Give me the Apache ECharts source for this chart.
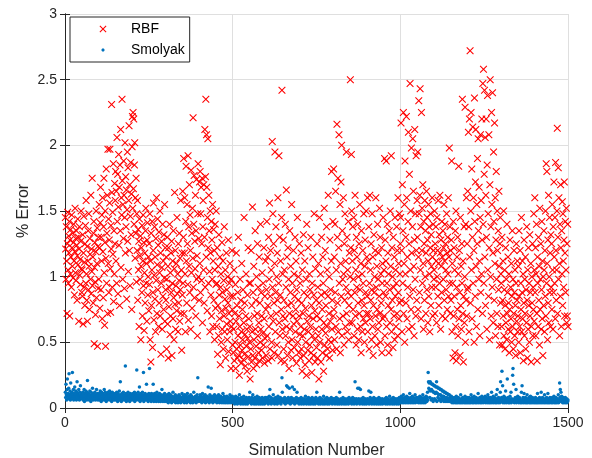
<!DOCTYPE html>
<html>
<head>
<meta charset="utf-8">
<script src="https://cdn.jsdelivr.net/npm/echarts@6/dist/echarts.min.js"></script>
<style>
  html, body { margin: 0; padding: 0; background: #fff; }
  #chart { width: 592px; height: 458px; }
</style>
</head>
<body>
<div id="chart"></div>
<script>
// % error per simulation, one row = 50 simulations
const rbfError = [
  1.45,1.21,0.98,1.38,1.12,0.72,1.25,1.49,1.05,0.95,1.31,1.18,1.42,0.7,1.28,1.02,1.36,1.15,0.92,1.47,1.22,1.08,1.33,0.99,1.26,1.4,1.12,0.86,1.19,1.52,1.03,1.29,0.97,1.35,1.24,0.82,1.16,1.44,1.09,1.3,0.66,1.21,1.38,1.01,1.13,0.94,1.27,1.5,1.06,0.88,
  1.05,0.85,1.32,0.64,1.18,1.46,0.92,1.11,0.78,1.25,1.39,0.95,1.58,1.02,0.82,1.23,0.66,1.12,1.35,0.9,1.48,1.08,0.75,1.29,1.17,0.98,1.62,0.87,1.21,1.04,1.75,0.93,1.15,0.8,1.33,1.42,0.49,1.07,1.26,0.96,0.71,1.19,1.5,0.84,1.1,1.37,0.47,1.23,0.91,1.3,
  0.98,1.55,1.22,0.76,1.41,1.68,0.9,1.3,1.12,1.47,0.68,1.6,1.19,0.84,1.38,1.75,1.03,0.63,1.26,1.5,0.47,1.14,1.82,0.95,1.33,1.62,0.72,1.97,1.1,1.44,0.88,1.28,1.56,1.97,1.06,0.73,1.39,1.21,2.31,1.64,0.92,1.49,1.17,1.86,0.81,1.35,1.02,1.71,1.25,1.58,
  1.8,1.12,1.65,0.95,2.06,1.42,1.78,0.87,1.53,1.93,1.24,1.68,0.78,1.85,1.35,2.12,1.07,1.6,1.47,2.35,1.73,0.98,1.55,1.29,1.88,1.62,0.91,1.45,2.02,1.18,1.76,1.38,1.66,0.83,1.51,1.95,1.27,1.83,1.04,1.58,2.15,1.2,1.7,0.93,1.46,1.87,1.32,1.63,0.75,1.99,
  2.22,1.52,2.25,1.67,2.2,1.4,1.85,2.02,1.14,1.6,1.33,1.75,0.96,1.48,1.2,1.58,0.82,1.36,1.05,1.27,0.62,1.44,1.16,0.98,1.31,0.52,1.08,1.22,0.88,1.39,0.7,1.12,1.47,0.93,1.26,0.59,1.03,1.18,0.8,1.35,1.52,0.95,1.1,0.66,1.28,1.41,0.86,1.0,1.15,0.74,
  1.25,0.94,1.48,0.52,1.12,0.35,1.33,0.78,1.05,1.42,0.46,0.88,1.2,1.56,0.67,1.01,1.38,0.83,1.15,0.58,1.29,0.97,1.6,0.72,1.09,1.44,0.9,1.24,0.62,1.34,0.8,1.03,1.5,0.7,1.18,0.41,0.95,1.27,1.07,0.6,1.4,0.85,1.12,0.75,1.32,0.99,1.55,0.66,1.22,0.9,
  0.82,1.15,0.45,0.98,1.3,0.64,1.08,0.38,1.22,0.77,0.92,1.4,0.56,1.03,0.7,1.18,0.88,1.27,0.4,0.95,1.12,0.68,1.35,0.84,0.52,1.06,1.64,0.79,1.2,0.6,0.93,1.1,0.74,1.45,0.87,1.02,0.58,1.25,0.8,0.97,1.33,0.66,1.14,0.9,1.58,0.72,1.05,0.44,1.18,0.86,
  1.65,0.95,1.3,1.9,0.72,1.18,1.6,1.02,0.58,1.42,1.84,1.12,0.8,1.55,1.25,0.94,1.92,0.67,1.38,1.08,1.7,0.88,1.47,1.2,0.6,1.81,1.03,1.33,0.76,1.52,1.14,2.21,0.92,1.4,1.77,0.84,1.27,1.06,1.62,0.7,1.35,1.74,0.98,1.16,0.55,1.48,1.86,1.0,1.29,0.82,
  1.72,1.1,1.8,0.88,1.48,1.68,0.97,1.25,1.75,0.65,1.38,1.58,1.05,1.7,0.8,1.3,2.12,0.92,1.76,2.35,1.15,2.08,1.68,0.74,1.45,2.05,1.22,0.95,1.62,1.35,1.04,0.58,1.5,1.18,0.86,1.42,0.7,1.28,0.98,1.55,0.62,1.12,1.36,0.82,1.2,0.52,1.05,1.4,0.76,0.94,
  1.5,0.62,0.95,1.22,0.41,0.78,1.08,0.55,1.32,0.86,0.68,1.15,0.33,0.92,1.02,0.5,0.74,1.26,0.6,0.88,1.12,0.45,0.97,0.7,1.38,0.58,0.83,1.05,0.38,0.76,1.18,0.64,0.9,0.52,1.0,0.8,1.28,0.43,0.72,0.95,0.58,1.1,0.66,0.85,0.3,0.98,0.62,1.2,0.75,0.48,
  0.85,0.42,0.6,1.05,0.36,0.72,0.5,0.94,0.3,0.66,1.18,0.45,0.78,0.38,0.88,0.55,1.3,0.4,0.7,0.25,0.62,0.98,0.48,0.82,0.34,0.58,1.1,0.44,0.75,0.52,0.9,0.37,0.65,1.45,0.41,0.8,0.56,0.32,0.7,1.02,0.47,0.6,0.28,0.86,0.53,1.22,0.39,0.68,0.95,0.5,
  0.62,0.22,0.95,0.45,1.2,0.35,0.78,0.58,1.53,0.4,0.88,0.3,1.08,0.52,0.7,0.38,1.35,0.6,0.82,0.47,1.0,0.33,0.72,1.25,0.55,0.92,0.42,0.65,1.15,0.36,0.8,0.5,1.4,0.6,0.88,0.44,0.7,1.03,0.38,0.57,0.95,0.48,1.22,0.68,0.34,0.85,0.53,1.12,0.75,0.4,
  0.9,1.42,0.55,1.15,0.78,0.36,1.3,0.62,0.98,1.56,0.45,0.85,1.2,0.7,1.05,0.5,0.38,2.03,0.92,1.48,0.66,1.25,0.8,0.42,1.1,1.95,0.58,0.88,1.38,0.72,1.0,0.48,1.18,0.82,1.6,0.4,0.95,1.92,0.65,1.3,0.55,0.86,1.12,0.36,0.75,1.45,2.42,0.6,1.02,0.7,
  1.28,0.45,0.82,1.05,0.35,0.68,1.4,0.55,0.92,1.66,0.62,1.15,0.4,0.78,1.22,0.5,0.98,0.3,0.72,1.35,0.6,0.88,1.08,0.44,0.8,1.55,0.52,0.95,0.38,0.7,1.2,0.64,1.02,0.46,0.85,1.3,0.58,0.75,1.12,0.34,0.9,0.66,1.45,0.5,0.82,1.0,0.42,0.7,1.25,0.56,
  0.95,0.38,0.62,1.18,0.45,0.8,0.28,1.05,0.55,0.72,1.32,0.4,0.88,0.6,1.12,0.33,0.76,0.5,0.98,0.25,1.4,0.66,0.85,0.44,1.22,0.58,0.7,0.36,1.02,0.48,0.9,0.62,1.3,0.42,0.78,0.27,0.95,0.55,1.15,0.68,0.4,0.86,1.48,0.52,0.74,0.35,1.06,0.6,0.82,0.46,
  0.7,1.25,0.38,0.92,0.55,1.1,0.22,0.8,1.45,0.5,0.68,1.02,0.35,0.86,1.3,0.6,0.75,0.42,1.15,0.95,0.28,0.65,1.52,0.48,0.88,1.2,0.57,0.78,0.4,1.38,0.62,1.05,0.45,0.85,1.62,0.52,0.72,1.0,0.38,1.28,0.66,0.9,0.5,1.12,1.8,0.6,0.82,0.44,1.42,0.7,
  1.82,0.75,1.15,0.52,1.4,0.88,1.65,0.62,1.05,0.45,2.16,1.3,0.8,1.75,0.58,1.22,2.08,0.95,0.68,1.55,0.42,1.1,1.72,0.85,2.0,0.55,1.35,0.98,0.7,1.6,1.02,0.48,1.25,0.82,1.48,0.62,1.12,0.92,1.95,0.72,1.3,0.58,1.05,0.88,1.42,0.52,0.78,1.18,0.65,1.0,
  2.5,1.22,0.85,1.93,1.5,0.65,1.12,1.38,0.75,0.98,1.45,0.55,1.2,0.88,1.62,0.7,1.05,0.48,1.3,0.92,1.15,0.6,1.4,0.8,1.0,0.52,1.25,0.72,1.55,0.9,0.62,1.1,0.42,1.35,0.82,1.02,0.58,1.2,0.95,0.68,1.48,0.78,0.5,1.08,1.28,0.65,0.88,1.5,0.72,1.15,
  0.85,1.6,0.58,1.12,0.72,1.38,0.45,0.95,1.62,0.68,1.05,0.82,1.25,0.52,0.9,1.48,0.62,1.15,0.4,0.78,1.32,0.88,1.0,0.55,1.2,0.7,1.6,0.92,0.48,1.08,0.75,1.4,0.6,0.98,1.18,0.65,0.85,1.52,0.72,1.3,0.5,1.02,0.8,1.22,0.42,0.95,1.1,0.68,1.45,0.88,
  1.05,0.7,1.9,0.55,1.28,0.85,1.12,1.88,0.62,0.95,1.4,0.48,1.18,0.78,1.02,0.42,1.35,0.9,0.65,1.5,1.08,0.75,1.92,0.58,1.22,0.82,1.0,0.46,1.3,0.92,0.7,1.15,0.52,1.45,0.85,1.05,0.62,0.95,1.38,0.72,1.2,0.55,1.6,0.88,1.1,0.68,1.48,0.8,1.02,1.25,
  1.45,2.17,0.82,1.2,0.58,1.7,0.95,1.35,2.25,0.72,1.1,1.55,0.5,1.88,1.02,1.3,0.8,2.22,1.6,0.68,1.15,0.92,1.42,2.1,0.6,1.25,1.78,0.85,2.47,1.05,1.5,0.75,1.98,1.18,0.62,1.38,2.05,0.9,1.65,1.08,0.55,1.28,2.12,0.98,1.48,0.7,1.92,1.2,0.82,1.58,
  1.3,1.95,0.75,1.15,2.34,1.48,0.88,1.62,2.43,1.05,1.38,0.68,2.25,1.2,1.52,0.95,1.7,1.1,0.6,1.42,1.25,0.82,1.58,1.0,1.35,0.72,1.18,1.65,0.9,1.45,1.28,0.65,1.12,1.55,0.85,1.38,1.02,0.58,1.22,1.48,0.78,1.32,1.08,0.92,1.6,1.15,0.7,1.4,1.2,0.98,
  1.05,1.5,0.72,1.25,0.92,1.38,1.12,0.65,1.45,1.0,1.2,0.85,1.58,1.1,0.78,1.32,0.95,1.62,1.18,0.6,1.28,1.08,0.88,1.42,1.15,0.7,1.35,0.98,1.22,1.55,0.82,1.12,1.4,0.68,1.25,1.05,0.9,1.48,1.18,0.75,1.3,1.02,1.6,0.85,1.15,1.98,0.95,1.38,0.72,1.2,
  0.82,1.28,1.88,0.58,1.1,0.95,0.38,1.42,0.7,1.22,0.85,1.05,0.42,1.35,0.62,1.5,0.36,0.92,1.15,0.75,1.3,0.55,1.02,1.84,0.68,1.2,0.88,0.4,1.45,0.78,1.08,0.6,1.25,0.95,2.35,0.72,1.12,0.35,0.85,1.38,0.65,1.0,2.29,0.5,1.4,0.82,1.6,0.7,1.25,0.9,
  1.65,0.92,2.1,1.38,0.58,2.2,1.15,2.72,0.8,1.5,2.25,1.05,1.82,0.68,1.3,2.14,0.95,1.6,1.2,0.5,2.36,1.42,0.85,1.72,2.12,1.08,0.62,1.55,1.25,1.9,0.75,2.05,1.35,0.98,1.68,1.12,0.55,1.45,2.08,0.88,1.58,1.02,2.2,1.28,0.72,2.47,1.4,2.58,0.95,1.78,
  2.42,1.15,2.06,0.78,1.62,2.2,1.3,0.6,1.85,2.38,1.05,1.48,0.85,2.08,1.22,0.52,1.7,2.5,1.0,1.38,0.7,2.25,1.55,0.92,2.4,1.18,0.65,1.95,1.42,0.82,2.17,1.1,1.6,0.55,1.28,1.8,0.98,0.72,1.5,1.2,0.62,1.35,0.9,1.65,1.08,0.48,1.25,1.45,0.8,1.02,
  0.95,0.62,1.3,0.48,0.82,1.12,0.7,1.5,0.55,0.9,1.05,0.45,0.78,1.22,0.65,0.98,0.52,1.4,0.72,0.88,1.15,0.6,0.8,1.02,0.42,0.75,1.28,0.58,0.92,0.68,1.1,0.5,0.85,1.35,0.62,0.98,0.45,0.72,1.2,0.88,0.55,1.05,0.78,0.4,0.95,1.25,0.66,0.82,1.12,0.58,
  0.7,1.08,0.5,1.35,0.85,0.62,1.2,0.42,0.95,0.75,1.45,0.58,0.88,1.12,0.68,1.02,0.36,0.8,1.28,0.55,0.98,0.72,1.15,0.45,0.9,0.65,1.38,0.82,0.38,1.05,0.6,1.22,0.78,0.95,0.5,1.32,0.7,0.88,1.1,0.35,0.62,1.0,0.8,1.25,0.55,0.92,0.75,1.48,0.66,1.05,
  1.6,0.88,1.22,0.55,1.02,1.4,0.72,0.36,1.15,0.95,0.62,1.3,0.82,1.08,0.48,1.52,0.75,0.98,1.25,0.6,0.9,1.42,0.68,1.12,0.4,1.0,0.78,1.35,1.05,0.58,1.2,0.85,1.5,0.7,1.86,0.95,1.8,1.1,0.52,1.28,0.8,1.62,0.65,1.0,1.45,0.88,1.18,0.62,1.32,0.92,
  1.25,0.75,1.55,1.05,0.6,1.38,0.88,1.72,1.15,0.95,1.45,0.68,1.87,1.2,0.82,1.05,1.5,2.13,0.72,1.3,1.83,0.98,1.6,1.1,0.55,1.4,0.85,1.7,1.22,0.62,1.35,1.02,1.57,0.78,1.48,1.12,0.92,1.28,1.72,0.7,1.18,1.42,0.88,1.05,1.52,0.65,1.25,0.7,1.4,0.62
];

const smolyakError = [
  0.12,0.08,0.18,0.1,0.06,0.14,0.22,0.09,0.11,0.07,0.15,0.26,0.1,0.08,0.13,0.06,0.19,0.11,0.09,0.07,0.12,0.27,0.1,0.08,0.14,0.06,0.11,0.09,0.16,0.07,0.1,0.13,0.08,0.06,0.12,0.2,0.09,0.11,0.07,0.1,0.14,0.08,0.06,0.12,0.09,0.17,0.07,0.1,0.08,0.11,
  0.09,0.07,0.12,0.06,0.1,0.08,0.14,0.05,0.11,0.09,0.07,0.13,0.08,0.1,0.06,0.12,0.21,0.07,0.09,0.11,0.08,0.06,0.1,0.13,0.07,0.09,0.05,0.12,0.08,0.1,0.07,0.15,0.09,0.06,0.11,0.08,0.1,0.07,0.12,0.09,0.06,0.1,0.08,0.14,0.07,0.09,0.11,0.06,0.08,0.1,
  0.08,0.11,0.06,0.09,0.13,0.07,0.1,0.05,0.12,0.08,0.09,0.06,0.11,0.07,0.1,0.08,0.14,0.06,0.09,0.12,0.07,0.1,0.05,0.08,0.11,0.09,0.06,0.12,0.08,0.1,0.07,0.09,0.13,0.06,0.08,0.11,0.07,0.1,0.05,0.09,0.12,0.08,0.06,0.1,0.07,0.11,0.09,0.06,0.08,0.1,
  0.07,0.1,0.06,0.12,0.08,0.09,0.05,0.11,0.07,0.1,0.08,0.13,0.06,0.09,0.2,0.07,0.1,0.05,0.08,0.11,0.06,0.09,0.07,0.12,0.08,0.1,0.06,0.09,0.07,0.32,0.08,0.11,0.05,0.09,0.07,0.1,0.06,0.12,0.08,0.09,0.07,0.1,0.05,0.08,0.11,0.06,0.09,0.07,0.1,0.08,
  0.09,0.06,0.11,0.08,0.1,0.07,0.12,0.05,0.09,0.08,0.11,0.06,0.1,0.29,0.07,0.09,0.08,0.12,0.06,0.1,0.07,0.16,0.08,0.05,0.09,0.11,0.07,0.1,0.06,0.08,0.12,0.07,0.09,0.27,0.05,0.1,0.08,0.06,0.11,0.07,0.09,0.08,0.18,0.06,0.1,0.07,0.09,0.05,0.08,0.11,
  0.08,0.3,0.06,0.1,0.07,0.09,0.05,0.11,0.08,0.06,0.1,0.07,0.18,0.09,0.05,0.08,0.11,0.06,0.09,0.07,0.1,0.05,0.08,0.12,0.06,0.09,0.07,0.1,0.05,0.08,0.06,0.11,0.07,0.09,0.05,0.1,0.08,0.06,0.14,0.07,0.09,0.05,0.08,0.1,0.06,0.07,0.11,0.05,0.09,0.08,
  0.06,0.09,0.05,0.08,0.1,0.06,0.07,0.04,0.09,0.11,0.06,0.08,0.05,0.07,0.1,0.06,0.08,0.04,0.09,0.07,0.05,0.12,0.06,0.08,0.07,0.05,0.09,0.06,0.1,0.04,0.07,0.08,0.05,0.06,0.09,0.07,0.04,0.08,0.06,0.1,0.05,0.07,0.09,0.06,0.04,0.08,0.07,0.05,0.11,0.06,
  0.07,0.05,0.09,0.06,0.08,0.04,0.1,0.07,0.05,0.08,0.06,0.09,0.04,0.07,0.11,0.05,0.08,0.06,0.07,0.09,0.05,0.06,0.08,0.04,0.1,0.07,0.05,0.09,0.06,0.08,0.04,0.07,0.06,0.12,0.05,0.08,0.07,0.05,0.09,0.06,0.04,0.08,0.07,0.1,0.05,0.23,0.06,0.08,0.05,0.07,
  0.08,0.06,0.1,0.05,0.07,0.09,0.06,0.04,0.08,0.11,0.05,0.07,0.06,0.09,0.05,0.08,0.06,0.1,0.04,0.07,0.05,0.08,0.06,0.09,0.07,0.05,0.16,0.06,0.08,0.04,0.07,0.1,0.05,0.06,0.08,0.15,0.05,0.07,0.09,0.06,0.04,0.08,0.06,0.07,0.05,0.1,0.06,0.08,0.05,0.07,
  0.06,0.09,0.04,0.07,0.05,0.08,0.06,0.1,0.05,0.07,0.04,0.08,0.06,0.09,0.05,0.07,0.06,0.04,0.08,0.05,0.11,0.06,0.07,0.04,0.09,0.05,0.06,0.08,0.04,0.07,0.06,0.05,0.09,0.04,0.07,0.06,0.08,0.05,0.04,0.07,0.06,0.1,0.05,0.08,0.04,0.06,0.07,0.05,0.09,0.06,
  0.05,0.07,0.04,0.06,0.08,0.03,0.06,0.05,0.09,0.04,0.07,0.05,0.06,0.03,0.08,0.05,0.04,0.07,0.06,0.1,0.04,0.05,0.07,0.03,0.06,0.08,0.05,0.04,0.06,0.07,0.03,0.05,0.09,0.04,0.06,0.05,0.07,0.03,0.06,0.04,0.08,0.05,0.06,0.03,0.07,0.05,0.04,0.06,0.08,0.05,
  0.12,0.05,0.07,0.04,0.06,0.03,0.08,0.05,0.06,0.1,0.04,0.07,0.05,0.03,0.06,0.08,0.04,0.05,0.07,0.03,0.06,0.05,0.09,0.04,0.06,0.07,0.03,0.05,0.08,0.04,0.06,0.05,0.03,0.07,0.04,0.06,0.05,0.08,0.03,0.06,0.04,0.07,0.05,0.06,0.03,0.05,0.08,0.04,0.06,0.05,
  0.06,0.04,0.08,0.05,0.07,0.03,0.06,0.05,0.09,0.04,0.14,0.06,0.05,0.08,0.03,0.06,0.04,0.07,0.05,0.06,0.1,0.04,0.05,0.07,0.03,0.06,0.05,0.08,0.04,0.06,0.07,0.05,0.03,0.06,0.09,0.04,0.05,0.07,0.06,0.04,0.05,0.08,0.06,0.03,0.05,0.07,0.23,0.12,0.05,0.06,
  0.05,0.07,0.04,0.06,0.08,0.05,0.03,0.06,0.07,0.05,0.17,0.04,0.06,0.16,0.05,0.08,0.04,0.06,0.15,0.05,0.07,0.03,0.06,0.05,0.08,0.04,0.06,0.16,0.05,0.07,0.04,0.06,0.05,0.14,0.03,0.07,0.05,0.06,0.04,0.08,0.05,0.12,0.06,0.04,0.07,0.05,0.06,0.03,0.05,0.07,
  0.06,0.04,0.05,0.08,0.03,0.06,0.05,0.07,0.04,0.06,0.05,0.03,0.07,0.05,0.06,0.04,0.09,0.05,0.06,0.03,0.05,0.07,0.04,0.06,0.05,0.08,0.03,0.05,0.06,0.04,0.07,0.05,0.03,0.06,0.05,0.04,0.08,0.05,0.06,0.03,0.05,0.07,0.04,0.06,0.05,0.03,0.06,0.08,0.04,0.05,
  0.12,0.05,0.06,0.04,0.07,0.03,0.05,0.06,0.04,0.08,0.05,0.03,0.06,0.05,0.07,0.04,0.05,0.06,0.03,0.05,0.09,0.04,0.06,0.05,0.03,0.07,0.05,0.04,0.06,0.05,0.08,0.03,0.05,0.06,0.04,0.05,0.07,0.03,0.06,0.05,0.04,0.06,0.05,0.08,0.04,0.05,0.03,0.06,0.05,0.07,
  0.05,0.04,0.06,0.07,0.03,0.05,0.06,0.04,0.08,0.05,0.06,0.03,0.05,0.07,0.04,0.06,0.05,0.03,0.12,0.05,0.06,0.04,0.07,0.05,0.03,0.06,0.05,0.04,0.08,0.05,0.06,0.03,0.05,0.04,0.07,0.06,0.05,0.03,0.06,0.05,0.04,0.07,0.05,0.06,0.03,0.05,0.08,0.04,0.06,0.05,
  0.06,0.04,0.05,0.07,0.03,0.06,0.05,0.08,0.04,0.06,0.05,0.03,0.07,0.05,0.2,0.04,0.06,0.05,0.07,0.03,0.05,0.06,0.15,0.04,0.05,0.07,0.15,0.05,0.03,0.06,0.14,0.05,0.04,0.07,0.06,0.05,0.03,0.06,0.08,0.04,0.05,0.06,0.03,0.05,0.07,0.04,0.06,0.05,0.03,0.06,
  0.05,0.07,0.04,0.06,0.05,0.13,0.03,0.06,0.05,0.08,0.04,0.12,0.05,0.06,0.03,0.07,0.05,0.04,0.06,0.05,0.08,0.03,0.05,0.06,0.04,0.07,0.05,0.06,0.03,0.05,0.04,0.07,0.06,0.05,0.03,0.08,0.04,0.06,0.05,0.07,0.03,0.05,0.06,0.04,0.05,0.07,0.03,0.06,0.05,0.04,
  0.06,0.05,0.04,0.07,0.05,0.03,0.06,0.08,0.04,0.05,0.06,0.03,0.07,0.05,0.04,0.06,0.05,0.09,0.03,0.05,0.06,0.04,0.07,0.05,0.06,0.03,0.05,0.04,0.08,0.06,0.05,0.03,0.06,0.05,0.07,0.04,0.05,0.06,0.03,0.05,0.07,0.04,0.06,0.05,0.03,0.06,0.08,0.05,0.04,0.06,
  0.07,0.05,0.09,0.06,0.04,0.08,0.06,0.05,0.1,0.04,0.07,0.06,0.05,0.08,0.04,0.06,0.07,0.05,0.09,0.04,0.06,0.05,0.08,0.06,0.04,0.07,0.05,0.11,0.06,0.04,0.08,0.05,0.07,0.06,0.04,0.09,0.05,0.06,0.08,0.04,0.07,0.05,0.06,0.1,0.04,0.06,0.05,0.08,0.06,0.05,
  0.06,0.05,0.08,0.04,0.07,0.06,0.05,0.09,0.04,0.06,0.07,0.05,0.08,0.04,0.06,0.05,0.1,0.07,0.04,0.06,0.05,0.08,0.06,0.04,0.07,0.05,0.09,0.06,0.05,0.08,0.12,0.06,0.27,0.2,0.15,0.19,0.14,0.08,0.2,0.13,0.19,0.06,0.14,0.18,0.07,0.13,0.18,0.05,0.12,0.17,
  0.12,0.07,0.17,0.11,0.06,0.16,0.12,0.2,0.05,0.16,0.11,0.08,0.15,0.1,0.06,0.15,0.1,0.07,0.14,0.1,0.05,0.14,0.09,0.07,0.13,0.09,0.06,0.13,0.09,0.05,0.12,0.08,0.07,0.12,0.08,0.05,0.11,0.08,0.06,0.11,0.07,0.05,0.1,0.07,0.06,0.1,0.07,0.05,0.09,0.06,
  0.05,0.09,0.07,0.04,0.08,0.06,0.05,0.07,0.04,0.06,0.08,0.05,0.07,0.04,0.06,0.05,0.09,0.04,0.06,0.07,0.05,0.04,0.08,0.06,0.05,0.07,0.04,0.06,0.05,0.1,0.04,0.06,0.07,0.05,0.04,0.08,0.06,0.05,0.07,0.04,0.06,0.05,0.09,0.04,0.07,0.06,0.05,0.04,0.08,0.06,
  0.06,0.04,0.07,0.05,0.08,0.04,0.06,0.05,0.07,0.04,0.1,0.06,0.05,0.08,0.04,0.06,0.07,0.05,0.04,0.09,0.06,0.05,0.07,0.04,0.06,0.08,0.05,0.04,0.07,0.06,0.05,0.11,0.04,0.06,0.07,0.05,0.08,0.04,0.06,0.05,0.07,0.04,0.09,0.06,0.05,0.07,0.04,0.06,0.08,0.05,
  0.07,0.05,0.09,0.04,0.06,0.08,0.05,0.07,0.04,0.06,0.1,0.05,0.08,0.04,0.06,0.07,0.05,0.04,0.08,0.06,0.05,0.12,0.04,0.07,0.06,0.05,0.09,0.04,0.06,0.05,0.08,0.07,0.04,0.06,0.05,0.1,0.04,0.07,0.14,0.05,0.06,0.04,0.08,0.05,0.07,0.06,0.04,0.12,0.2,0.06,
  0.05,0.08,0.28,0.06,0.17,0.04,0.07,0.05,0.09,0.06,0.04,0.08,0.05,0.13,0.06,0.04,0.07,0.05,0.22,0.06,0.08,0.04,0.05,0.07,0.06,0.04,0.09,0.05,0.06,0.12,0.04,0.07,0.05,0.06,0.25,0.3,0.05,0.18,0.06,0.04,0.07,0.05,0.08,0.06,0.14,0.04,0.07,0.05,0.06,0.09,
  0.05,0.07,0.04,0.06,0.08,0.05,0.07,0.04,0.06,0.05,0.12,0.04,0.17,0.06,0.05,0.08,0.04,0.07,0.11,0.05,0.06,0.04,0.08,0.05,0.07,0.04,0.06,0.1,0.05,0.04,0.07,0.06,0.05,0.08,0.04,0.06,0.05,0.09,0.04,0.06,0.07,0.05,0.04,0.08,0.06,0.05,0.07,0.04,0.06,0.05,
  0.06,0.04,0.08,0.05,0.07,0.04,0.06,0.05,0.11,0.04,0.07,0.06,0.05,0.04,0.08,0.06,0.05,0.07,0.04,0.12,0.06,0.05,0.04,0.08,0.06,0.05,0.07,0.04,0.06,0.1,0.05,0.04,0.07,0.06,0.05,0.08,0.04,0.06,0.05,0.11,0.04,0.07,0.06,0.05,0.04,0.08,0.06,0.05,0.07,0.04,
  0.06,0.05,0.08,0.04,0.07,0.06,0.05,0.09,0.04,0.06,0.05,0.07,0.04,0.08,0.06,0.05,0.04,0.07,0.06,0.05,0.1,0.04,0.06,0.05,0.19,0.08,0.14,0.05,0.12,0.06,0.09,0.05,0.07,0.04,0.06,0.08,0.05,0.04,0.07,0.06,0.05,0.08,0.04,0.06,0.05,0.07,0.04,0.06,0.05,0.06
];

const seriesNames = ['RBF', 'Smolyak'];
const xTicks = [0, 500, 1000, 1500];
const yTicks = [0, 0.5, 1, 1.5, 2, 2.5, 3];

const FONT = '"Liberation Sans", Arial, Helvetica, sans-serif';
const AXIS_COLOR = '#262626';
const GRID_COLOR = '#dfdfdf';

// filled "x" outline centred on (cx, cy), half size h, arm offset a
function crossPath(cx, cy, h, a) {
  const p = [
    [cx - h, cy - h + a], [cx - h + a, cy - h], [cx, cy - a], [cx + h - a, cy - h],
    [cx + h, cy - h + a], [cx + a, cy], [cx + h, cy + h - a], [cx + h - a, cy + h],
    [cx, cy + a], [cx - h + a, cy + h], [cx - h, cy + h - a], [cx - a, cy]
  ];
  return 'M' + p.map(q => q[0].toFixed(2) + ',' + q[1].toFixed(2)).join('L') + 'Z';
}
function dotPath(cx, cy, r) {
  const p = [];
  for (let k = 0; k < 12; k++) {
    const t = k / 12 * Math.PI * 2;
    p.push((cx + r * Math.cos(t)).toFixed(2) + ',' + (cy + r * Math.sin(t)).toFixed(2));
  }
  return 'M' + p.join('L') + 'Z';
}
const CROSS = 'path://' + crossPath(5, 5, 5, 1);
// legend icons sit in a 46x10 box so they keep the small figure size
const LEGEND_CROSS = 'path://M0,0M46,10' + crossPath(23, 5, 3.5, 0.75);
const LEGEND_DOT = 'path://M0,0M46,10' + dotPath(23, 5, 1.6);

const chart = echarts.init(document.getElementById('chart'), null, { renderer: 'canvas' });

const tickLabel = { color: AXIS_COLOR, fontSize: 14, fontFamily: FONT, margin: 8, formatter: v => String(v) };
const frameAxis = {
  type: 'value',
  axisLine: { show: true, lineStyle: { color: AXIS_COLOR, width: 1 } },
  axisTick: { show: true, inside: true, length: 5, lineStyle: { color: AXIS_COLOR } },
  axisLabel: { show: false },
  splitLine: { show: false }
};

const option = {
  animation: false,
  backgroundColor: '#fff',
  textStyle: { fontFamily: FONT },
  grid: { left: 65, right: 24, top: 14, bottom: 50, containLabel: false, outerBoundsMode: 'none' },
  legend: {
    orient: 'vertical',
    left: 70,
    top: 17,
    data: [
      { name: seriesNames[0], icon: LEGEND_CROSS },
      { name: seriesNames[1], icon: LEGEND_DOT }
    ],
    itemWidth: 46,
    itemHeight: 10,
    itemGap: 5,
    padding: [4, 5, 4, 10],
    backgroundColor: '#fff',
    borderColor: AXIS_COLOR,
    borderWidth: 1,
    textStyle: { color: '#000', fontSize: 14, fontFamily: FONT, lineHeight: 16 }
  },
  xAxis: [
    {
      type: 'value', min: xTicks[0], max: xTicks[xTicks.length - 1], interval: xTicks[1] - xTicks[0],
      axisLine: { show: true, lineStyle: { color: AXIS_COLOR, width: 1 } },
      axisTick: { show: true, inside: true, length: 5, lineStyle: { color: AXIS_COLOR } },
      axisLabel: tickLabel,
      splitLine: { show: true, lineStyle: { color: GRID_COLOR, width: 1 } },
      name: 'Simulation Number', nameLocation: 'middle', nameGap: 35, nameMoveOverlap: false,
      nameTextStyle: { color: AXIS_COLOR, fontSize: 16, fontFamily: FONT }
    },
    Object.assign({}, frameAxis, {
      position: 'top', min: xTicks[0], max: xTicks[xTicks.length - 1], interval: xTicks[1] - xTicks[0]
    })
  ],
  yAxis: [
    {
      type: 'value', min: yTicks[0], max: yTicks[yTicks.length - 1], interval: yTicks[1] - yTicks[0],
      axisLine: { show: true, lineStyle: { color: AXIS_COLOR, width: 1 } },
      axisTick: { show: true, inside: true, length: 5, lineStyle: { color: AXIS_COLOR } },
      axisLabel: tickLabel,
      splitLine: { show: true, lineStyle: { color: GRID_COLOR, width: 1 } },
      name: '% Error', nameLocation: 'middle', nameGap: 33, nameRotate: 90, nameMoveOverlap: false,
      nameTextStyle: { color: AXIS_COLOR, fontSize: 16, fontFamily: FONT }
    },
    Object.assign({}, frameAxis, {
      position: 'right', min: yTicks[0], max: yTicks[yTicks.length - 1], interval: yTicks[1] - yTicks[0]
    })
  ],
  series: [
    {
      name: seriesNames[0],
      type: 'scatter',
      xAxisIndex: 0, yAxisIndex: 0,
      symbol: CROSS,
      symbolSize: 7.5,
      progressive: 0,
      large: false,
      itemStyle: { color: '#ff0000', opacity: 1 },
      emphasis: { disabled: true },
      data: rbfError.map((v, i) => [i + 1, v])
    },
    {
      name: seriesNames[1],
      type: 'scatter',
      xAxisIndex: 0, yAxisIndex: 0,
      symbol: 'circle',
      symbolSize: 3.5,
      progressive: 0,
      large: false,
      itemStyle: { color: '#0072bd', opacity: 1 },
      emphasis: { disabled: true },
      data: smolyakError.map((v, i) => [i + 1, v])
    }
  ]
};

chart.setOption(option);
</script>
</body>
</html>
